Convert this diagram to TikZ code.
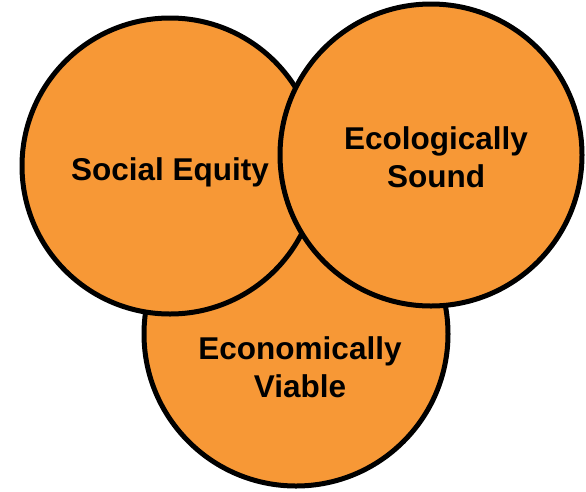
\documentclass[tikz,border=0pt]{standalone}
\usepackage{fontspec}
\setmainfont{Liberation Sans}
\definecolor{vorange}{HTML}{F79836}
\begin{document}
\begin{tikzpicture}[x=1pt,y=-1pt,
  circ/.style={circle, draw=black, line width=5pt, fill=vorange, inner sep=0pt},
  lbl/.style={font=\fontsize{31.5}{38}\selectfont\bfseries, align=center, text=black, inner sep=0pt}]
\useasboundingbox (0,0) rectangle (586,491);
\node[circ, minimum size=304pt] (ev) at (296,334) {};
\node[circ, minimum size=296pt] (se) at (170,166) {};
\node[circ, minimum size=302pt] (es) at (431,155) {};
\node[lbl] (evt) at (300,367) {Economically\\Viable};
\node[lbl] (set) at (170,172) {Social Equity};
\node[lbl] (est) at (436,157) {Ecologically\\Sound};
\end{tikzpicture}
\end{document}
